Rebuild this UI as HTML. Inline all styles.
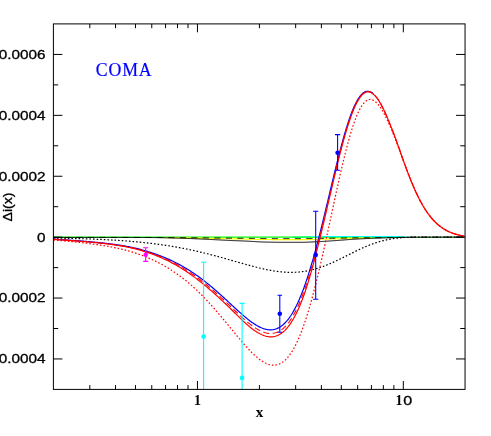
<!DOCTYPE html>
<html><head><meta charset="utf-8"><title>COMA</title>
<style>
html,body{margin:0;padding:0;background:#fff;}
body{width:491px;height:436px;overflow:hidden;font-family:"Liberation Sans",sans-serif;}
svg{display:block;will-change:transform;}
.tl{font-family:"Liberation Sans",sans-serif;font-size:12.4px;fill:#000;stroke:#000;stroke-width:0.3px;}
</style></head><body>
<svg width="491" height="436" viewBox="0 0 491 436">
<rect width="491" height="436" fill="#fff"/>
<defs><clipPath id="c"><rect x="53.4" y="23.9" width="411.65000000000003" height="365.5"/></clipPath></defs>

<g clip-path="url(#c)" fill="none" stroke-linejoin="round">
<path d="M292.4,237.15L293.4,237.15L294.4,237.14L295.4,237.14L296.4,237.13L297.4,237.11L298.4,237.10L299.4,237.09L300.4,237.07L301.4,237.05L302.4,237.03L303.4,237.01L304.4,236.99L305.4,236.97L306.4,236.95L307.4,236.92L308.4,236.90L309.4,236.88L310.4,236.86L311.4,236.83L312.4,236.81L313.4,236.79L314.4,236.77L315.4,236.75L316.4,236.73L317.4,236.72L318.4,236.70L319.4,236.69L320.4,236.68L321.4,236.67L322.4,236.66L323.4,236.65L324.4,236.65L325.4,236.65L326.4,236.65L327.4,236.65L328.4,236.65L329.4,236.65L330.4,236.65L331.4,236.65L332.4,236.65L333.4,236.65L334.4,236.65L335.4,236.65L336.4,236.65L337.4,236.65L338.4,236.65L339.4,236.65L340.4,236.65L341.4,236.65L342.4,236.65L343.4,236.65L344.4,236.65L345.4,236.65L346.4,236.65L347.4,236.65L348.4,236.65L349.4,236.65L350.4,236.65L351.4,236.65L352.4,236.65L353.4,236.65L354.4,236.65L355.4,236.65L356.4,236.65L357.4,236.65L358.4,236.65L359.4,236.65L360.4,236.65L361.4,236.65L362.4,236.65L363.4,236.65L364.4,236.65L365.4,236.65L366.4,236.65L367.4,236.65L368.4,236.65L369.4,236.65L370.4,236.65L371.4,236.65L372.4,236.65L373.4,236.65L374.4,236.65L375.4,236.65L376.4,236.65L377.4,236.65L378.4,236.65L379.4,236.65L380.4,236.65L381.4,236.65L382.4,236.65L383.4,236.65L384.4,236.65L385.4,236.65L386.4,236.65L387.4,236.65L388.4,236.65L389.4,236.65L390.4,236.65L391.4,236.65L392.4,236.65L393.4,236.65L394.4,236.65L395.4,236.65L396.4,236.65L397.4,236.65L398.4,236.65L399.4,236.67L400.4,236.70L401.4,236.75L402.4,236.81L403.4,236.88L404.4,236.95L405.4,237.03L406.4,237.11L407.4,237.19L408.4,237.26L409.4,237.33L410.4,237.39L411.4,237.44L412.4,237.48L413.4,237.50L414.4,237.50" stroke="#00ffff" stroke-width="1.1"/>
<path d="M53.4,237.15L54.4,237.15L55.4,237.15L56.4,237.15L57.4,237.15L58.4,237.15L59.4,237.15L60.4,237.15L61.4,237.15L62.4,237.15L63.4,237.15L64.4,237.15L65.4,237.15L66.4,237.15L67.4,237.15L68.4,237.15L69.4,237.15L70.4,237.15L71.4,237.15L72.4,237.15L73.4,237.15L74.4,237.15L75.4,237.15L76.4,237.15L77.4,237.15L78.4,237.15L79.4,237.15L80.4,237.15L81.4,237.15L82.4,237.15L83.4,237.15L84.4,237.15L85.4,237.15L86.4,237.15L87.4,237.15L88.4,237.15L89.4,237.15L90.4,237.15L91.4,237.15L92.4,237.15L93.4,237.15L94.4,237.15L95.4,237.15L96.4,237.15L97.4,237.15L98.4,237.15L99.4,237.15L100.4,237.15L101.4,237.15L102.4,237.15L103.4,237.15L104.4,237.15L105.4,237.15L106.4,237.15L107.4,237.15L108.4,237.15L109.4,237.15L110.4,237.15L111.4,237.15L112.4,237.15L113.4,237.15L114.4,237.15L115.4,237.15L116.4,237.15L117.4,237.15L118.4,237.15L119.4,237.15L120.4,237.15L121.4,237.15L122.4,237.15L123.4,237.15L124.4,237.15L125.4,237.15L126.4,237.15L127.4,237.15L128.4,237.15L129.4,237.15L130.4,237.15L131.4,237.15L132.4,237.15L133.4,237.15L134.4,237.15L135.4,237.15L136.4,237.15L137.4,237.15L138.4,237.15L139.4,237.15L140.4,237.15L141.4,237.15L142.4,237.15L143.4,237.15L144.4,237.15L145.4,237.15L146.4,237.15L147.4,237.15L148.4,237.15L149.4,237.15L150.4,237.15L151.4,237.15L152.4,237.15L153.4,237.15L154.4,237.15L155.4,237.15L156.4,237.15L157.4,237.15L158.4,237.15L159.4,237.15L160.4,237.15L161.4,237.15L162.4,237.15L163.4,237.15L164.4,237.15L165.4,237.15L166.4,237.15L167.4,237.15L168.4,237.15L169.4,237.15L170.4,237.15L171.4,237.15L172.4,237.15L173.4,237.15L174.4,237.15L175.4,237.15L176.4,237.15L177.4,237.15L178.4,237.15L179.4,237.15L180.4,237.15L181.4,237.15L182.4,237.15L183.4,237.15L184.4,237.15L185.4,237.15L186.4,237.15L187.4,237.15L188.4,237.15L189.4,237.15L190.4,237.15L191.4,237.15L192.4,237.15L193.4,237.15L194.4,237.15L195.4,237.15L196.4,237.15L197.4,237.15L198.4,237.15L199.4,237.15L200.4,237.15L201.4,237.15L202.4,237.15L203.4,237.15L204.4,237.15L205.4,237.15L206.4,237.15L207.4,237.15L208.4,237.15L209.4,237.15L210.4,237.15L211.4,237.15L212.4,237.15L213.4,237.15L214.4,237.15L215.4,237.15L216.4,237.15L217.4,237.15L218.4,237.15L219.4,237.15L220.4,237.15L221.4,237.15L222.4,237.15L223.4,237.15L224.4,237.15L225.4,237.15L226.4,237.15L227.4,237.15L228.4,237.15L229.4,237.15L230.4,237.15L231.4,237.15L232.4,237.15L233.4,237.15L234.4,237.15L235.4,237.15L236.4,237.15L237.4,237.15L238.4,237.15L239.4,237.15L240.4,237.15L241.4,237.15L242.4,237.15L243.4,237.15L244.4,237.15L245.4,237.15L246.4,237.15L247.4,237.15L248.4,237.15L249.4,237.15L250.4,237.15L251.4,237.15L252.4,237.15L253.4,237.15L254.4,237.15L255.4,237.15L256.4,237.15L257.4,237.15L258.4,237.15L259.4,237.15L260.4,237.15L261.4,237.15L262.4,237.15L263.4,237.15L264.4,237.15L265.4,237.15L266.4,237.15L267.4,237.15L268.4,237.15L269.4,237.15L270.4,237.15L271.4,237.15L272.4,237.15L273.4,237.15L274.4,237.15L275.4,237.15L276.4,237.15L277.4,237.15L278.4,237.15L279.4,237.15L280.4,237.15L281.4,237.15L282.4,237.15L283.4,237.15L284.4,237.15L285.4,237.15L286.4,237.15L287.4,237.15L288.4,237.15L289.4,237.15L290.4,237.15L291.4,237.15L292.4,237.15L293.4,237.15L294.4,237.15L295.4,237.15L296.4,237.15L297.4,237.15L298.4,237.15L299.4,237.15L300.4,237.15L301.4,237.15L302.4,237.15L303.4,237.15L304.4,237.15L305.4,237.15L306.4,237.15L307.4,237.15L308.4,237.15L309.4,237.15L310.4,237.15L311.4,237.15" stroke="#00ff00" stroke-width="1.15"/>
<path d="M311.4,237.45L312.4,237.45L313.4,237.45L314.4,237.45L315.4,237.45L316.4,237.45L317.4,237.45L318.4,237.45L319.4,237.45L320.4,237.45L321.4,237.45L322.4,237.45L323.4,237.45L324.4,237.45L325.4,237.45L326.4,237.45L327.4,237.45L328.4,237.45L329.4,237.45L330.4,237.45L331.4,237.45L332.4,237.45L333.4,237.45L334.4,237.45L335.4,237.45L336.4,237.45L337.4,237.45L338.4,237.45L339.4,237.45L340.4,237.45L341.4,237.45L342.4,237.45L343.4,237.45L344.4,237.45L345.4,237.45L346.4,237.45L347.4,237.45L348.4,237.45L349.4,237.45L350.4,237.45L351.4,237.45L352.4,237.45L353.4,237.45L354.4,237.45L355.4,237.45L356.4,237.45L357.4,237.45L358.4,237.45L359.4,237.45L360.4,237.45L361.4,237.45L362.4,237.45L363.4,237.45L364.4,237.45L365.4,237.45L366.4,237.45L367.4,237.45L368.4,237.45L369.4,237.45L370.4,237.45L371.4,237.45L372.4,237.45L373.4,237.45L374.4,237.45L375.4,237.45L376.4,237.45L377.4,237.45L378.4,237.45L379.4,237.45L380.4,237.45L381.4,237.45L382.4,237.45L383.4,237.45L384.4,237.45L385.4,237.45L386.4,237.45L387.4,237.45L388.4,237.45L389.4,237.45L390.4,237.45L391.4,237.45L392.4,237.45L393.4,237.45L394.4,237.45L395.4,237.45L396.4,237.45L397.4,237.45L398.4,237.45L399.4,237.45L400.4,237.45L401.4,237.45L402.4,237.45L403.4,237.45L404.4,237.45L405.4,237.45L406.4,237.45L407.4,237.45L408.4,237.45L409.4,237.45L410.4,237.45L411.4,237.45L412.4,237.45L413.4,237.45L414.4,237.45L415.4,237.45L416.4,237.45L417.4,237.45L418.4,237.45L419.4,237.45L420.4,237.45L421.4,237.45L422.4,237.45L423.4,237.45L424.4,237.45L425.4,237.45L426.4,237.45L427.4,237.45L428.4,237.45L429.4,237.45L430.4,237.45L431.4,237.45L432.4,237.45L433.4,237.45L434.4,237.45L435.4,237.45L436.4,237.45L437.4,237.45L438.4,237.45L439.4,237.45L440.4,237.45L441.4,237.45L442.4,237.45L443.4,237.45L444.4,237.45L445.4,237.45L446.4,237.45L447.4,237.45L448.4,237.45L449.4,237.45L450.4,237.45L451.4,237.45L452.4,237.45L453.4,237.45L454.4,237.45L455.4,237.45L456.4,237.45L457.4,237.45L458.4,237.45L459.4,237.45L460.4,237.45L461.4,237.45L462.4,237.45L463.4,237.45L464.4,237.45" stroke="#00ff00" stroke-width="1.0"/>
<path d="M165.4,237.60L166.4,237.61L167.4,237.62L168.4,237.64L169.4,237.65L170.4,237.66L171.4,237.67L172.4,237.68L173.4,237.70L174.4,237.71L175.4,237.72L176.4,237.74L177.4,237.75L178.4,237.76L179.4,237.78L180.4,237.79L181.4,237.81L182.4,237.82L183.4,237.83L184.4,237.85L185.4,237.86L186.4,237.88L187.4,237.89L188.4,237.91L189.4,237.92L190.4,237.94L191.4,237.96L192.4,237.98L193.4,238.00L194.4,238.02L195.4,238.04L196.4,238.06L197.4,238.08L198.4,238.10L199.4,238.12L200.4,238.14L201.4,238.16L202.4,238.19L203.4,238.21L204.4,238.23L205.4,238.25L206.4,238.27L207.4,238.29L208.4,238.32L209.4,238.34L210.4,238.36L211.4,238.38L212.4,238.40L213.4,238.42L214.4,238.45L215.4,238.47L216.4,238.49L217.4,238.52L218.4,238.54L219.4,238.56L220.4,238.59L221.4,238.61L222.4,238.63L223.4,238.66L224.4,238.68L225.4,238.70L226.4,238.72L227.4,238.75L228.4,238.77L229.4,238.79L230.4,238.81L231.4,238.83L232.4,238.85L233.4,238.86L234.4,238.88L235.4,238.90L236.4,238.92L237.4,238.93L238.4,238.95L239.4,238.97L240.4,238.98L241.4,239.00L242.4,239.02L243.4,239.04L244.4,239.06L245.4,239.08L246.4,239.10L247.4,239.12L248.4,239.15L249.4,239.17L250.4,239.20L251.4,239.22L252.4,239.25L253.4,239.28L254.4,239.30L255.4,239.33L256.4,239.36L257.4,239.38L258.4,239.40L259.4,239.43L260.4,239.45L261.4,239.47L262.4,239.49L263.4,239.50L264.4,239.51L265.4,239.52L266.4,239.53L267.4,239.54L268.4,239.55L269.4,239.56L270.4,239.57L271.4,239.58L272.4,239.59L273.4,239.60L274.4,239.60L275.4,239.61L276.4,239.62L277.4,239.62L278.4,239.63L279.4,239.63L280.4,239.63L281.4,239.63L282.4,239.63L283.4,239.63L284.4,239.63L285.4,239.63L286.4,239.63L287.4,239.63L288.4,239.63L289.4,239.63L290.4,239.63L291.4,239.63L292.4,239.63L293.4,239.63L294.4,239.63L295.4,239.63L296.4,239.63L297.4,239.63L298.4,239.63L299.4,239.63L300.4,239.63L301.4,239.63L302.4,239.63L303.4,239.62L304.4,239.61L305.4,239.60L306.4,239.58L307.4,239.57L308.4,239.55L309.4,239.53L310.4,239.51L311.4,239.49L312.4,239.47L313.4,239.45L314.4,239.43L315.4,239.40L316.4,239.38L317.4,239.36L318.4,239.33L319.4,239.31L320.4,239.29L321.4,239.26L322.4,239.24L323.4,239.22L324.4,239.19L325.4,239.17L326.4,239.14L327.4,239.11L328.4,239.08L329.4,239.05L330.4,239.02L331.4,238.99L332.4,238.96L333.4,238.92L334.4,238.89L335.4,238.86L336.4,238.83L337.4,238.79L338.4,238.76L339.4,238.73L340.4,238.70L341.4,238.66L342.4,238.63L343.4,238.60L344.4,238.56L345.4,238.53L346.4,238.49L347.4,238.45L348.4,238.42L349.4,238.38L350.4,238.35L351.4,238.32L352.4,238.29L353.4,238.26L354.4,238.23L355.4,238.20L356.4,238.18L357.4,238.16L358.4,238.13L359.4,238.11L360.4,238.08L361.4,238.06L362.4,238.04L363.4,238.02L364.4,237.99L365.4,237.97L366.4,237.95L367.4,237.93L368.4,237.91L369.4,237.89L370.4,237.87L371.4,237.86" stroke="#ffff00" stroke-width="1.1"/>
<path d="M53.4,237.45L54.4,237.45L55.4,237.45L56.4,237.45L57.4,237.45L58.4,237.45L59.4,237.45L60.4,237.45L61.4,237.45L62.4,237.45L63.4,237.45L64.4,237.45L65.4,237.45L66.4,237.45L67.4,237.45L68.4,237.45L69.4,237.45L70.4,237.45L71.4,237.45L72.4,237.45L73.4,237.45L74.4,237.45L75.4,237.45L76.4,237.45L77.4,237.45L78.4,237.45L79.4,237.45L80.4,237.45L81.4,237.45L82.4,237.45L83.4,237.45L84.4,237.45L85.4,237.45L86.4,237.45L87.4,237.45L88.4,237.45L89.4,237.45L90.4,237.45L91.4,237.45L92.4,237.45L93.4,237.45L94.4,237.45L95.4,237.45L96.4,237.45L97.4,237.45L98.4,237.45L99.4,237.45L100.4,237.45L101.4,237.45L102.4,237.45L103.4,237.45L104.4,237.45L105.4,237.45L106.4,237.45L107.4,237.45L108.4,237.45L109.4,237.45L110.4,237.45L111.4,237.45L112.4,237.45L113.4,237.45L114.4,237.45L115.4,237.45L116.4,237.45L117.4,237.45L118.4,237.45L119.4,237.45L120.4,237.45L121.4,237.45L122.4,237.45L123.4,237.45L124.4,237.45L125.4,237.45L126.4,237.45L127.4,237.45L128.4,237.45L129.4,237.45L130.4,237.45L131.4,237.45L132.4,237.45L133.4,237.46L134.4,237.46L135.4,237.46L136.4,237.46L137.4,237.46L138.4,237.46L139.4,237.46L140.4,237.46L141.4,237.46L142.4,237.46L143.4,237.47L144.4,237.47L145.4,237.47L146.4,237.47L147.4,237.47L148.4,237.47L149.4,237.47L150.4,237.47L151.4,237.48L152.4,237.48L153.4,237.48L154.4,237.48L155.4,237.49L156.4,237.49L157.4,237.49L158.4,237.50L159.4,237.50L160.4,237.51L161.4,237.51L162.4,237.52L163.4,237.52L164.4,237.53L165.4,237.53L166.4,237.54L167.4,237.54L168.4,237.55L169.4,237.56L170.4,237.56L171.4,237.57L172.4,237.58L173.4,237.58L174.4,237.59L175.4,237.60L176.4,237.60L177.4,237.61L178.4,237.62L179.4,237.62L180.4,237.63L181.4,237.64L182.4,237.65L183.4,237.65L184.4,237.66L185.4,237.67L186.4,237.68L187.4,237.68L188.4,237.69L189.4,237.70L190.4,237.71L191.4,237.72L192.4,237.73L193.4,237.74L194.4,237.75L195.4,237.76L196.4,237.77L197.4,237.78L198.4,237.80L199.4,237.81L200.4,237.82L201.4,237.83L202.4,237.84L203.4,237.85L204.4,237.87L205.4,237.88L206.4,237.89L207.4,237.90L208.4,237.91L209.4,237.92L210.4,237.93L211.4,237.95L212.4,237.96L213.4,237.97L214.4,237.98L215.4,237.99L216.4,238.01L217.4,238.02L218.4,238.03L219.4,238.04L220.4,238.06L221.4,238.07L222.4,238.08L223.4,238.09L224.4,238.11L225.4,238.12L226.4,238.13L227.4,238.14L228.4,238.15L229.4,238.16L230.4,238.17L231.4,238.18L232.4,238.19L233.4,238.20L234.4,238.21L235.4,238.22L236.4,238.23L237.4,238.24L238.4,238.25L239.4,238.26L240.4,238.27L241.4,238.28L242.4,238.29L243.4,238.30L244.4,238.31L245.4,238.32L246.4,238.33L247.4,238.34L248.4,238.35L249.4,238.37L250.4,238.38L251.4,238.40L252.4,238.41L253.4,238.42L254.4,238.44L255.4,238.45L256.4,238.47L257.4,238.48L258.4,238.49L259.4,238.50L260.4,238.52L261.4,238.53L262.4,238.54L263.4,238.54L264.4,238.55L265.4,238.56L266.4,238.56L267.4,238.57L268.4,238.57L269.4,238.58L270.4,238.58L271.4,238.59L272.4,238.59L273.4,238.60L274.4,238.60L275.4,238.60L276.4,238.61L277.4,238.61L278.4,238.61L279.4,238.61L280.4,238.61L281.4,238.61L282.4,238.61L283.4,238.61L284.4,238.61L285.4,238.61L286.4,238.61L287.4,238.61L288.4,238.61L289.4,238.61L290.4,238.61L291.4,238.61L292.4,238.61L293.4,238.61L294.4,238.61L295.4,238.61L296.4,238.61L297.4,238.61L298.4,238.61L299.4,238.61L300.4,238.61L301.4,238.61L302.4,238.61L303.4,238.61L304.4,238.60L305.4,238.60L306.4,238.59L307.4,238.58L308.4,238.57L309.4,238.56L310.4,238.55L311.4,238.54L312.4,238.53L313.4,238.52L314.4,238.50L315.4,238.49L316.4,238.48L317.4,238.47L318.4,238.45L319.4,238.44L320.4,238.43L321.4,238.42L322.4,238.41L323.4,238.39L324.4,238.38L325.4,238.37L326.4,238.35L327.4,238.34L328.4,238.32L329.4,238.30L330.4,238.29L331.4,238.27L332.4,238.25L333.4,238.24L334.4,238.22L335.4,238.20L336.4,238.18L337.4,238.17L338.4,238.15L339.4,238.13L340.4,238.12L341.4,238.10L342.4,238.08L343.4,238.06L344.4,238.04L345.4,238.02L346.4,238.00L347.4,237.99L348.4,237.97L349.4,237.95L350.4,237.93L351.4,237.91L352.4,237.90L353.4,237.88L354.4,237.87L355.4,237.85L356.4,237.84L357.4,237.83L358.4,237.81L359.4,237.80L360.4,237.79L361.4,237.78L362.4,237.76L363.4,237.75L364.4,237.74L365.4,237.73L366.4,237.72L367.4,237.71L368.4,237.70L369.4,237.69L370.4,237.68L371.4,237.67L372.4,237.66L373.4,237.65L374.4,237.64L375.4,237.63L376.4,237.62L377.4,237.61L378.4,237.61L379.4,237.60L380.4,237.59L381.4,237.58L382.4,237.57L383.4,237.57L384.4,237.56L385.4,237.54L386.4,237.53L387.4,237.52L388.4,237.51L389.4,237.50L390.4,237.48L391.4,237.47L392.4,237.46L393.4,237.44L394.4,237.43L395.4,237.42L396.4,237.40L397.4,237.39L398.4,237.37L399.4,237.36L400.4,237.35L401.4,237.33L402.4,237.32L403.4,237.31L404.4,237.30L405.4,237.28L406.4,237.27L407.4,237.26L408.4,237.25L409.4,237.23L410.4,237.22L411.4,237.21L412.4,237.20L413.4,237.19L414.4,237.18L415.4,237.18L416.4,237.17L417.4,237.16L418.4,237.16L419.4,237.15L420.4,237.15L421.4,237.15L422.4,237.14L423.4,237.14L424.4,237.14L425.4,237.13L426.4,237.13L427.4,237.13L428.4,237.12L429.4,237.12L430.4,237.12L431.4,237.11L432.4,237.11L433.4,237.11L434.4,237.10L435.4,237.10L436.4,237.10L437.4,237.09L438.4,237.09L439.4,237.09L440.4,237.09L441.4,237.08L442.4,237.08L443.4,237.08L444.4,237.08L445.4,237.07L446.4,237.07L447.4,237.07L448.4,237.07L449.4,237.07L450.4,237.06L451.4,237.06L452.4,237.06L453.4,237.06L454.4,237.06L455.4,237.06L456.4,237.06L457.4,237.05L458.4,237.05L459.4,237.05L460.4,237.05L461.4,237.05L462.4,237.05L463.4,237.05L464.4,237.05" stroke="#000" stroke-width="1" stroke-dasharray="6,5.5"/>
<path d="M53.4,237.45L54.4,237.45L55.4,237.45L56.4,237.45L57.4,237.45L58.4,237.45L59.4,237.45L60.4,237.45L61.4,237.45L62.4,237.45L63.4,237.45L64.4,237.45L65.4,237.45L66.4,237.45L67.4,237.45L68.4,237.45L69.4,237.45L70.4,237.45L71.4,237.45L72.4,237.45L73.4,237.45L74.4,237.45L75.4,237.45L76.4,237.45L77.4,237.45L78.4,237.45L79.4,237.45L80.4,237.45L81.4,237.45L82.4,237.45L83.4,237.45L84.4,237.45L85.4,237.45L86.4,237.45L87.4,237.45L88.4,237.45L89.4,237.45L90.4,237.45L91.4,237.45L92.4,237.45L93.4,237.45L94.4,237.45L95.4,237.45L96.4,237.45L97.4,237.45L98.4,237.45L99.4,237.45L100.4,237.45L101.4,237.45L102.4,237.45L103.4,237.45L104.4,237.45L105.4,237.45L106.4,237.45L107.4,237.45L108.4,237.45L109.4,237.45L110.4,237.45L111.4,237.45L112.4,237.45L113.4,237.45L114.4,237.45L115.4,237.45L116.4,237.45L117.4,237.45L118.4,237.45L119.4,237.45L120.4,237.45L121.4,237.45L122.4,237.45L123.4,237.45L124.4,237.45L125.4,237.45L126.4,237.46L127.4,237.46L128.4,237.46L129.4,237.46L130.4,237.46L131.4,237.47L132.4,237.47L133.4,237.47L134.4,237.48L135.4,237.48L136.4,237.48L137.4,237.49L138.4,237.49L139.4,237.50L140.4,237.50L141.4,237.51L142.4,237.51L143.4,237.51L144.4,237.52L145.4,237.52L146.4,237.53L147.4,237.54L148.4,237.54L149.4,237.55L150.4,237.55L151.4,237.56L152.4,237.57L153.4,237.58L154.4,237.59L155.4,237.60L156.4,237.62L157.4,237.63L158.4,237.65L159.4,237.66L160.4,237.68L161.4,237.70L162.4,237.72L163.4,237.74L164.4,237.77L165.4,237.79L166.4,237.81L167.4,237.84L168.4,237.86L169.4,237.89L170.4,237.92L171.4,237.94L172.4,237.97L173.4,238.00L174.4,238.03L175.4,238.06L176.4,238.09L177.4,238.12L178.4,238.15L179.4,238.18L180.4,238.21L181.4,238.24L182.4,238.27L183.4,238.30L184.4,238.33L185.4,238.36L186.4,238.39L187.4,238.43L188.4,238.46L189.4,238.50L190.4,238.54L191.4,238.58L192.4,238.62L193.4,238.66L194.4,238.71L195.4,238.75L196.4,238.80L197.4,238.84L198.4,238.89L199.4,238.94L200.4,238.99L201.4,239.03L202.4,239.08L203.4,239.13L204.4,239.18L205.4,239.23L206.4,239.28L207.4,239.33L208.4,239.37L209.4,239.42L210.4,239.47L211.4,239.52L212.4,239.57L213.4,239.62L214.4,239.67L215.4,239.72L216.4,239.77L217.4,239.82L218.4,239.87L219.4,239.93L220.4,239.98L221.4,240.03L222.4,240.08L223.4,240.13L224.4,240.18L225.4,240.23L226.4,240.28L227.4,240.33L228.4,240.38L229.4,240.42L230.4,240.47L231.4,240.51L232.4,240.55L233.4,240.59L234.4,240.63L235.4,240.67L236.4,240.71L237.4,240.75L238.4,240.78L239.4,240.82L240.4,240.86L241.4,240.90L242.4,240.94L243.4,240.98L244.4,241.02L245.4,241.07L246.4,241.12L247.4,241.17L248.4,241.22L249.4,241.28L250.4,241.33L251.4,241.39L252.4,241.45L253.4,241.51L254.4,241.57L255.4,241.63L256.4,241.68L257.4,241.74L258.4,241.79L259.4,241.84L260.4,241.89L261.4,241.93L262.4,241.97L263.4,242.01L264.4,242.04L265.4,242.06L266.4,242.08L267.4,242.10L268.4,242.12L269.4,242.15L270.4,242.17L271.4,242.19L272.4,242.20L273.4,242.22L274.4,242.24L275.4,242.25L276.4,242.26L277.4,242.28L278.4,242.28L279.4,242.29L280.4,242.30L281.4,242.30L282.4,242.30L283.4,242.30L284.4,242.30L285.4,242.30L286.4,242.30L287.4,242.30L288.4,242.30L289.4,242.30L290.4,242.30L291.4,242.30L292.4,242.30L293.4,242.30L294.4,242.30L295.4,242.30L296.4,242.30L297.4,242.30L298.4,242.30L299.4,242.30L300.4,242.30L301.4,242.29L302.4,242.28L303.4,242.27L304.4,242.25L305.4,242.22L306.4,242.19L307.4,242.16L308.4,242.12L309.4,242.08L310.4,242.04L311.4,241.99L312.4,241.94L313.4,241.90L314.4,241.84L315.4,241.79L316.4,241.74L317.4,241.69L318.4,241.64L319.4,241.58L320.4,241.53L321.4,241.48L322.4,241.43L323.4,241.38L324.4,241.32L325.4,241.26L326.4,241.20L327.4,241.14L328.4,241.07L329.4,241.01L330.4,240.94L331.4,240.87L332.4,240.80L333.4,240.73L334.4,240.65L335.4,240.58L336.4,240.51L337.4,240.44L338.4,240.36L339.4,240.29L340.4,240.22L341.4,240.15L342.4,240.07L343.4,240.00L344.4,239.92L345.4,239.84L346.4,239.76L347.4,239.68L348.4,239.60L349.4,239.53L350.4,239.45L351.4,239.38L352.4,239.31L353.4,239.25L354.4,239.18L355.4,239.13L356.4,239.07L357.4,239.02L358.4,238.96L359.4,238.91L360.4,238.86L361.4,238.81L362.4,238.76L363.4,238.71L364.4,238.66L365.4,238.61L366.4,238.57L367.4,238.52L368.4,238.48L369.4,238.43L370.4,238.39L371.4,238.35L372.4,238.31L373.4,238.27L374.4,238.24L375.4,238.20L376.4,238.16L377.4,238.13L378.4,238.10L379.4,238.07L380.4,238.04L381.4,238.01L382.4,237.98L383.4,237.95L384.4,237.92L385.4,237.88L386.4,237.85L387.4,237.82L388.4,237.79L389.4,237.76L390.4,237.73L391.4,237.70L392.4,237.67L393.4,237.64L394.4,237.61L395.4,237.58L396.4,237.55L397.4,237.53L398.4,237.50L399.4,237.48L400.4,237.46L401.4,237.44L402.4,237.42L403.4,237.39L404.4,237.37L405.4,237.35L406.4,237.33L407.4,237.31L408.4,237.29L409.4,237.27L410.4,237.26L411.4,237.24L412.4,237.22L413.4,237.21L414.4,237.20L415.4,237.18L416.4,237.17L417.4,237.17L418.4,237.16L419.4,237.15L420.4,237.15L421.4,237.15L422.4,237.14L423.4,237.14L424.4,237.14L425.4,237.13L426.4,237.13L427.4,237.13L428.4,237.12L429.4,237.12L430.4,237.12L431.4,237.11L432.4,237.11L433.4,237.11L434.4,237.10L435.4,237.10L436.4,237.10L437.4,237.09L438.4,237.09L439.4,237.09L440.4,237.09L441.4,237.08L442.4,237.08L443.4,237.08L444.4,237.08L445.4,237.07L446.4,237.07L447.4,237.07L448.4,237.07L449.4,237.07L450.4,237.06L451.4,237.06L452.4,237.06L453.4,237.06L454.4,237.06L455.4,237.06L456.4,237.06L457.4,237.05L458.4,237.05L459.4,237.05L460.4,237.05L461.4,237.05L462.4,237.05L463.4,237.05L464.4,237.05" stroke="#000" stroke-width="1.0"/>
<path d="M53.4,238.07L54.4,238.09L55.4,238.10L56.4,238.12L57.4,238.14L58.4,238.16L59.4,238.17L60.4,238.19L61.4,238.21L62.4,238.23L63.4,238.25L64.4,238.27L65.4,238.29L66.4,238.31L67.4,238.34L68.4,238.36L69.4,238.38L70.4,238.40L71.4,238.43L72.4,238.45L73.4,238.48L74.4,238.50L75.4,238.53L76.4,238.56L77.4,238.58L78.4,238.61L79.4,238.64L80.4,238.67L81.4,238.70L82.4,238.73L83.4,238.76L84.4,238.79L85.4,238.83L86.4,238.86L87.4,238.89L88.4,238.93L89.4,238.97L90.4,239.00L91.4,239.04L92.4,239.08L93.4,239.12L94.4,239.16L95.4,239.20L96.4,239.24L97.4,239.28L98.4,239.32L99.4,239.37L100.4,239.41L101.4,239.46L102.4,239.51L103.4,239.56L104.4,239.60L105.4,239.65L106.4,239.71L107.4,239.76L108.4,239.81L109.4,239.87L110.4,239.92L111.4,239.98L112.4,240.04L113.4,240.10L114.4,240.16L115.4,240.22L116.4,240.28L117.4,240.34L118.4,240.41L119.4,240.48L120.4,240.54L121.4,240.61L122.4,240.68L123.4,240.75L124.4,240.83L125.4,240.90L126.4,240.98L127.4,241.06L128.4,241.14L129.4,241.22L130.4,241.30L131.4,241.38L132.4,241.47L133.4,241.56L134.4,241.64L135.4,241.73L136.4,241.83L137.4,241.92L138.4,242.01L139.4,242.11L140.4,242.21L141.4,242.31L142.4,242.41L143.4,242.52L144.4,242.62L145.4,242.73L146.4,242.84L147.4,242.95L148.4,243.07L149.4,243.18L150.4,243.30L151.4,243.42L152.4,243.54L153.4,243.66L154.4,243.79L155.4,243.92L156.4,244.05L157.4,244.18L158.4,244.31L159.4,244.45L160.4,244.59L161.4,244.73L162.4,244.87L163.4,245.02L164.4,245.17L165.4,245.31L166.4,245.47L167.4,245.62L168.4,245.78L169.4,245.94L170.4,246.10L171.4,246.26L172.4,246.43L173.4,246.60L174.4,246.77L175.4,246.94L176.4,247.12L177.4,247.29L178.4,247.48L179.4,247.66L180.4,247.84L181.4,248.03L182.4,248.22L183.4,248.42L184.4,248.61L185.4,248.81L186.4,249.01L187.4,249.21L188.4,249.42L189.4,249.63L190.4,249.84L191.4,250.05L192.4,250.27L193.4,250.48L194.4,250.70L195.4,250.93L196.4,251.15L197.4,251.38L198.4,251.61L199.4,251.84L200.4,252.08L201.4,252.31L202.4,252.55L203.4,252.80L204.4,253.04L205.4,253.29L206.4,253.53L207.4,253.79L208.4,254.04L209.4,254.29L210.4,254.55L211.4,254.81L212.4,255.07L213.4,255.33L214.4,255.60L215.4,255.86L216.4,256.13L217.4,256.40L218.4,256.67L219.4,256.95L220.4,257.22L221.4,257.50L222.4,257.77L223.4,258.05L224.4,258.33L225.4,258.61L226.4,258.89L227.4,259.18L228.4,259.46L229.4,259.74L230.4,260.03L231.4,260.31L232.4,260.60L233.4,260.89L234.4,261.17L235.4,261.46L236.4,261.74L237.4,262.03L238.4,262.32L239.4,262.60L240.4,262.89L241.4,263.17L242.4,263.45L243.4,263.73L244.4,264.02L245.4,264.29L246.4,264.57L247.4,264.85L248.4,265.12L249.4,265.40L250.4,265.67L251.4,265.93L252.4,266.20L253.4,266.46L254.4,266.72L255.4,266.98L256.4,267.23L257.4,267.48L258.4,267.73L259.4,267.97L260.4,268.21L261.4,268.44L262.4,268.67L263.4,268.89L264.4,269.11L265.4,269.33L266.4,269.54L267.4,269.74L268.4,269.94L269.4,270.13L270.4,270.31L271.4,270.49L272.4,270.66L273.4,270.83L274.4,270.99L275.4,271.14L276.4,271.28L277.4,271.41L278.4,271.54L279.4,271.66L280.4,271.77L281.4,271.87L282.4,271.96L283.4,272.05L284.4,272.12L285.4,272.18L286.4,272.24L287.4,272.28L288.4,272.32L289.4,272.34L290.4,272.36L291.4,272.36L292.4,272.35L293.4,272.33L294.4,272.30L295.4,272.26L296.4,272.21L297.4,272.15L298.4,272.07L299.4,271.98L300.4,271.88L301.4,271.77L302.4,271.65L303.4,271.52L304.4,271.37L305.4,271.21L306.4,271.04L307.4,270.86L308.4,270.66L309.4,270.45L310.4,270.23L311.4,270.00L312.4,269.76L313.4,269.50L314.4,269.24L315.4,268.96L316.4,268.67L317.4,268.37L318.4,268.05L319.4,267.73L320.4,267.40L321.4,267.05L322.4,266.69L323.4,266.33L324.4,265.95L325.4,265.57L326.4,265.17L327.4,264.77L328.4,264.35L329.4,263.93L330.4,263.50L331.4,263.06L332.4,262.62L333.4,262.17L334.4,261.71L335.4,261.24L336.4,260.77L337.4,260.30L338.4,259.82L339.4,259.33L340.4,258.84L341.4,258.35L342.4,257.85L343.4,257.36L344.4,256.85L345.4,256.35L346.4,255.85L347.4,255.35L348.4,254.84L349.4,254.34L350.4,253.84L351.4,253.34L352.4,252.84L353.4,252.34L354.4,251.85L355.4,251.36L356.4,250.88L357.4,250.40L358.4,249.92L359.4,249.45L360.4,248.98L361.4,248.52L362.4,248.07L363.4,247.63L364.4,247.19L365.4,246.76L366.4,246.34L367.4,245.92L368.4,245.52L369.4,245.12L370.4,244.73L371.4,244.36L372.4,243.99L373.4,243.63L374.4,243.28L375.4,242.94L376.4,242.62L377.4,242.30L378.4,241.99L379.4,241.70L380.4,241.41L381.4,241.14L382.4,240.88L383.4,240.62L384.4,240.38L385.4,240.15L386.4,239.93L387.4,239.72L388.4,239.52L389.4,239.33L390.4,239.15L391.4,238.97L392.4,238.81L393.4,238.66L394.4,238.52L395.4,238.38L396.4,238.26L397.4,238.14L398.4,238.03L399.4,237.93L400.4,237.83L401.4,237.74L402.4,237.66L403.4,237.59L404.4,237.52L405.4,237.46L406.4,237.40L407.4,237.35L408.4,237.31L409.4,237.27L410.4,237.23L411.4,237.20L412.4,237.17L413.4,237.14L414.4,237.12L415.4,237.10L416.4,237.09L417.4,237.07L418.4,237.06L419.4,237.05L420.4,237.05L421.4,237.04L422.4,237.04L423.4,237.04L424.4,237.04L425.4,237.04L426.4,237.04L427.4,237.04L428.4,237.04L429.4,237.04L430.4,237.05L431.4,237.06L432.4,237.06L433.4,237.07L434.4,237.08L435.4,237.08L436.4,237.09L437.4,237.09L438.4,237.10L439.4,237.11L440.4,237.11L441.4,237.11L442.4,237.12L443.4,237.12L444.4,237.13L445.4,237.13L446.4,237.13L447.4,237.13L448.4,237.14L449.4,237.14L450.4,237.14L451.4,237.14L452.4,237.14L453.4,237.14L454.4,237.15L455.4,237.15L456.4,237.15L457.4,237.15L458.4,237.15L459.4,237.15L460.4,237.15L461.4,237.15L462.4,237.15L463.4,237.15L464.4,237.15" stroke="#000" stroke-width="1.2" stroke-dasharray="1.6,2.0"/>
<path d="M53.4,240.01L54.4,240.09L55.4,240.18L56.4,240.26L57.4,240.34L58.4,240.43L59.4,240.52L60.4,240.60L61.4,240.69L62.4,240.78L63.4,240.87L64.4,240.96L65.4,241.05L66.4,241.14L67.4,241.23L68.4,241.33L69.4,241.42L70.4,241.51L71.4,241.60L72.4,241.70L73.4,241.80L74.4,241.90L75.4,242.00L76.4,242.10L77.4,242.21L78.4,242.31L79.4,242.42L80.4,242.53L81.4,242.64L82.4,242.76L83.4,242.87L84.4,242.99L85.4,243.11L86.4,243.24L87.4,243.36L88.4,243.49L89.4,243.61L90.4,243.74L91.4,243.88L92.4,244.01L93.4,244.14L94.4,244.28L95.4,244.42L96.4,244.55L97.4,244.70L98.4,244.84L99.4,244.99L100.4,245.13L101.4,245.29L102.4,245.44L103.4,245.60L104.4,245.76L105.4,245.93L106.4,246.10L107.4,246.27L108.4,246.45L109.4,246.63L110.4,246.82L111.4,247.01L112.4,247.20L113.4,247.40L114.4,247.60L115.4,247.81L116.4,248.02L117.4,248.23L118.4,248.45L119.4,248.67L120.4,248.90L121.4,249.13L122.4,249.37L123.4,249.61L124.4,249.86L125.4,250.12L126.4,250.38L127.4,250.65L128.4,250.92L129.4,251.21L130.4,251.50L131.4,251.79L132.4,252.10L133.4,252.41L134.4,252.73L135.4,253.06L136.4,253.39L137.4,253.73L138.4,254.08L139.4,254.44L140.4,254.80L141.4,255.17L142.4,255.55L143.4,255.93L144.4,256.32L145.4,256.72L146.4,257.13L147.4,257.54L148.4,257.96L149.4,258.39L150.4,258.83L151.4,259.28L152.4,259.73L153.4,260.20L154.4,260.67L155.4,261.15L156.4,261.64L157.4,262.14L158.4,262.65L159.4,263.17L160.4,263.69L161.4,264.23L162.4,264.78L163.4,265.33L164.4,265.90L165.4,266.47L166.4,267.06L167.4,267.66L168.4,268.26L169.4,268.88L170.4,269.51L171.4,270.15L172.4,270.80L173.4,271.46L174.4,272.13L175.4,272.81L176.4,273.51L177.4,274.21L178.4,274.93L179.4,275.66L180.4,276.40L181.4,277.15L182.4,277.91L183.4,278.69L184.4,279.47L185.4,280.27L186.4,281.08L187.4,281.91L188.4,282.74L189.4,283.59L190.4,284.46L191.4,285.33L192.4,286.22L193.4,287.12L194.4,288.03L195.4,288.96L196.4,289.89L197.4,290.84L198.4,291.80L199.4,292.78L200.4,293.76L201.4,294.76L202.4,295.77L203.4,296.79L204.4,297.82L205.4,298.87L206.4,299.92L207.4,300.99L208.4,302.06L209.4,303.15L210.4,304.25L211.4,305.35L212.4,306.47L213.4,307.59L214.4,308.73L215.4,309.87L216.4,311.02L217.4,312.18L218.4,313.35L219.4,314.52L220.4,315.70L221.4,316.89L222.4,318.09L223.4,319.28L224.4,320.49L225.4,321.70L226.4,322.91L227.4,324.12L228.4,325.34L229.4,326.56L230.4,327.78L231.4,329.01L232.4,330.23L233.4,331.45L234.4,332.67L235.4,333.88L236.4,335.10L237.4,336.30L238.4,337.51L239.4,338.70L240.4,339.89L241.4,341.07L242.4,342.24L243.4,343.39L244.4,344.54L245.4,345.67L246.4,346.79L247.4,347.89L248.4,348.97L249.4,350.03L250.4,351.08L251.4,352.10L252.4,353.09L253.4,354.06L254.4,355.01L255.4,355.92L256.4,356.81L257.4,357.66L258.4,358.47L259.4,359.25L260.4,359.99L261.4,360.69L262.4,361.35L263.4,361.96L264.4,362.53L265.4,363.05L266.4,363.51L267.4,363.93L268.4,364.29L269.4,364.59L270.4,364.83L271.4,365.01L272.4,365.12L273.4,365.17L274.4,365.16L275.4,365.07L276.4,364.91L277.4,364.68L278.4,364.38L279.4,363.99L280.4,363.53L281.4,362.98L282.4,362.35L283.4,361.63L284.4,360.82L285.4,359.92L286.4,358.92L287.4,357.83L288.4,356.64L289.4,355.36L290.4,353.97L291.4,352.48L292.4,350.88L293.4,349.19L294.4,347.38L295.4,345.47L296.4,343.46L297.4,341.33L298.4,339.11L299.4,336.77L300.4,334.33L301.4,331.78L302.4,329.12L303.4,326.36L304.4,323.49L305.4,320.52L306.4,317.44L307.4,314.27L308.4,310.99L309.4,307.61L310.4,304.14L311.4,300.57L312.4,296.91L313.4,293.16L314.4,289.32L315.4,285.40L316.4,281.41L317.4,277.33L318.4,273.19L319.4,268.98L320.4,264.70L321.4,260.36L322.4,255.97L323.4,251.53L324.4,247.05L325.4,242.52L326.4,237.96L327.4,233.37L328.4,228.76L329.4,224.14L330.4,219.50L331.4,214.85L332.4,210.19L333.4,205.53L334.4,200.88L335.4,196.24L336.4,191.63L337.4,187.06L338.4,182.53L339.4,178.04L340.4,173.62L341.4,169.27L342.4,164.99L343.4,160.80L344.4,156.70L345.4,152.70L346.4,148.80L347.4,145.00L348.4,141.30L349.4,137.73L350.4,134.28L351.4,130.96L352.4,127.79L353.4,124.75L354.4,121.87L355.4,119.15L356.4,116.60L357.4,114.21L358.4,112.00L359.4,109.97L360.4,108.12L361.4,106.45L362.4,104.95L363.4,103.63L364.4,102.48L365.4,101.52L366.4,100.74L367.4,100.14L368.4,99.73L369.4,99.50L370.4,99.45L371.4,99.58L372.4,99.89L373.4,100.35L374.4,100.95L375.4,101.69L376.4,102.58L377.4,103.59L378.4,104.74L379.4,106.02L380.4,107.43L381.4,108.96L382.4,110.60L383.4,112.36L384.4,114.23L385.4,116.21L386.4,118.25L387.4,120.36L388.4,122.54L389.4,124.77L390.4,127.07L391.4,129.42L392.4,131.82L393.4,134.28L394.4,136.79L395.4,139.35L396.4,141.96L397.4,144.61L398.4,147.31L399.4,150.04L400.4,152.79L401.4,155.54L402.4,158.28L403.4,161.00L404.4,163.71L405.4,166.39L406.4,169.04L407.4,171.66L408.4,174.24L409.4,176.78L410.4,179.28L411.4,181.72L412.4,184.11L413.4,186.45L414.4,188.73L415.4,190.95L416.4,193.11L417.4,195.20L418.4,197.23L419.4,199.20L420.4,201.10L421.4,202.94L422.4,204.71L423.4,206.42L424.4,208.06L425.4,209.65L426.4,211.17L427.4,212.62L428.4,214.02L429.4,215.36L430.4,216.64L431.4,217.87L432.4,219.04L433.4,220.15L434.4,221.21L435.4,222.22L436.4,223.18L437.4,224.10L438.4,224.96L439.4,225.78L440.4,226.56L441.4,227.30L442.4,227.99L443.4,228.65L444.4,229.27L445.4,229.85L446.4,230.40L447.4,230.92L448.4,231.41L449.4,231.87L450.4,232.31L451.4,232.72L452.4,233.10L453.4,233.46L454.4,233.80L455.4,234.12L456.4,234.42L457.4,234.70L458.4,234.95L459.4,235.19L460.4,235.42L461.4,235.63L462.4,235.82L463.4,236.01L464.4,236.18" stroke="#ff0000" stroke-width="1.2" stroke-dasharray="1.6,2.0"/>
<path d="M53.4,239.09L54.4,239.15L55.4,239.22L56.4,239.28L57.4,239.35L58.4,239.42L59.4,239.48L60.4,239.55L61.4,239.62L62.4,239.68L63.4,239.75L64.4,239.82L65.4,239.89L66.4,239.95L67.4,240.02L68.4,240.09L69.4,240.16L70.4,240.22L71.4,240.29L72.4,240.36L73.4,240.43L74.4,240.50L75.4,240.57L76.4,240.65L77.4,240.72L78.4,240.80L79.4,240.87L80.4,240.95L81.4,241.03L82.4,241.11L83.4,241.19L84.4,241.28L85.4,241.36L86.4,241.45L87.4,241.53L88.4,241.62L89.4,241.71L90.4,241.80L91.4,241.89L92.4,241.98L93.4,242.07L94.4,242.17L95.4,242.26L96.4,242.35L97.4,242.45L98.4,242.54L99.4,242.64L100.4,242.74L101.4,242.84L102.4,242.95L103.4,243.05L104.4,243.16L105.4,243.28L106.4,243.39L107.4,243.51L108.4,243.63L109.4,243.75L110.4,243.88L111.4,244.01L112.4,244.14L113.4,244.28L114.4,244.41L115.4,244.55L116.4,244.69L117.4,244.84L118.4,244.99L119.4,245.14L120.4,245.30L121.4,245.45L122.4,245.62L123.4,245.79L124.4,245.96L125.4,246.13L126.4,246.31L127.4,246.50L128.4,246.69L129.4,246.89L130.4,247.09L131.4,247.30L132.4,247.51L133.4,247.73L134.4,247.96L135.4,248.20L136.4,248.43L137.4,248.68L138.4,248.93L139.4,249.18L140.4,249.44L141.4,249.70L142.4,249.97L143.4,250.25L144.4,250.53L145.4,250.81L146.4,251.10L147.4,251.40L148.4,251.70L149.4,252.01L150.4,252.33L151.4,252.65L152.4,252.98L153.4,253.31L154.4,253.65L155.4,254.00L156.4,254.36L157.4,254.72L158.4,255.09L159.4,255.46L160.4,255.84L161.4,256.23L162.4,256.63L163.4,257.03L164.4,257.45L165.4,257.87L166.4,258.29L167.4,258.73L168.4,259.17L169.4,259.62L170.4,260.08L171.4,260.55L172.4,261.02L173.4,261.51L174.4,262.00L175.4,262.50L176.4,263.01L177.4,263.53L178.4,264.06L179.4,264.60L180.4,265.14L181.4,265.70L182.4,266.26L183.4,266.83L184.4,267.42L185.4,268.01L186.4,268.61L187.4,269.22L188.4,269.84L189.4,270.47L190.4,271.11L191.4,271.76L192.4,272.42L193.4,273.09L194.4,273.77L195.4,274.45L196.4,275.15L197.4,275.86L198.4,276.57L199.4,277.30L200.4,278.04L201.4,278.78L202.4,279.54L203.4,280.30L204.4,281.08L205.4,281.86L206.4,282.65L207.4,283.45L208.4,284.26L209.4,285.08L210.4,285.90L211.4,286.74L212.4,287.58L213.4,288.43L214.4,289.29L215.4,290.15L216.4,291.03L217.4,291.91L218.4,292.79L219.4,293.68L220.4,294.58L221.4,295.48L222.4,296.39L223.4,297.30L224.4,298.22L225.4,299.14L226.4,300.06L227.4,300.98L228.4,301.91L229.4,302.84L230.4,303.76L231.4,304.69L232.4,305.62L233.4,306.55L234.4,307.47L235.4,308.39L236.4,309.31L237.4,310.22L238.4,311.13L239.4,312.03L240.4,312.92L241.4,313.80L242.4,314.68L243.4,315.54L244.4,316.40L245.4,317.23L246.4,318.06L247.4,318.87L248.4,319.66L249.4,320.44L250.4,321.19L251.4,321.93L252.4,322.64L253.4,323.33L254.4,323.99L255.4,324.63L256.4,325.24L257.4,325.82L258.4,326.37L259.4,326.88L260.4,327.36L261.4,327.80L262.4,328.21L263.4,328.57L264.4,328.90L265.4,329.17L266.4,329.41L267.4,329.59L268.4,329.72L269.4,329.81L270.4,329.84L271.4,329.81L272.4,329.73L273.4,329.58L274.4,329.38L275.4,329.11L276.4,328.78L277.4,328.38L278.4,327.91L279.4,327.37L280.4,326.76L281.4,326.07L282.4,325.30L283.4,324.46L284.4,323.54L285.4,322.53L286.4,321.45L287.4,320.27L288.4,319.02L289.4,317.67L290.4,316.24L291.4,314.71L292.4,313.10L293.4,311.39L294.4,309.59L295.4,307.70L296.4,305.72L297.4,303.64L298.4,301.46L299.4,299.19L300.4,296.83L301.4,294.37L302.4,291.82L303.4,289.17L304.4,286.43L305.4,283.60L306.4,280.68L307.4,277.66L308.4,274.56L309.4,271.38L310.4,268.11L311.4,264.75L312.4,261.32L313.4,257.81L314.4,254.23L315.4,250.57L316.4,246.85L317.4,243.06L318.4,239.21L319.4,235.31L320.4,231.35L321.4,227.34L322.4,223.29L323.4,219.20L324.4,215.08L325.4,210.93L326.4,206.76L327.4,202.57L328.4,198.37L329.4,194.16L330.4,189.95L331.4,185.75L332.4,181.56L333.4,177.39L334.4,173.25L335.4,169.14L336.4,165.07L337.4,161.05L338.4,157.08L339.4,153.17L340.4,149.32L341.4,145.55L342.4,141.86L343.4,138.26L344.4,134.74L345.4,131.33L346.4,128.02L347.4,124.83L348.4,121.75L349.4,118.79L350.4,115.96L351.4,113.27L352.4,110.71L353.4,108.30L354.4,106.03L355.4,103.91L356.4,101.95L357.4,100.15L358.4,98.51L359.4,97.03L360.4,95.72L361.4,94.57L362.4,93.59L363.4,92.79L364.4,92.15L365.4,91.68L366.4,91.38L367.4,91.25L368.4,91.28L369.4,91.48L370.4,91.85L371.4,92.37L372.4,93.05L373.4,93.87" stroke="#0000ff" stroke-width="1.2"/>
<path d="M53.4,239.25L54.4,239.31L55.4,239.38L56.4,239.44L57.4,239.51L58.4,239.58L59.4,239.65L60.4,239.71L61.4,239.78L62.4,239.85L63.4,239.92L64.4,239.99L65.4,240.06L66.4,240.13L67.4,240.19L68.4,240.26L69.4,240.33L70.4,240.40L71.4,240.47L72.4,240.54L73.4,240.61L74.4,240.68L75.4,240.76L76.4,240.83L77.4,240.91L78.4,240.99L79.4,241.06L80.4,241.14L81.4,241.22L82.4,241.31L83.4,241.39L84.4,241.48L85.4,241.56L86.4,241.65L87.4,241.74L88.4,241.83L89.4,241.92L90.4,242.01L91.4,242.10L92.4,242.19L93.4,242.29L94.4,242.38L95.4,242.48L96.4,242.57L97.4,242.67L98.4,242.77L99.4,242.87L100.4,242.97L101.4,243.07L102.4,243.18L103.4,243.29L104.4,243.40L105.4,243.51L106.4,243.63L107.4,243.75L108.4,243.87L109.4,244.00L110.4,244.13L111.4,244.26L112.4,244.39L113.4,244.53L114.4,244.67L115.4,244.81L116.4,244.96L117.4,245.11L118.4,245.26L119.4,245.42L120.4,245.58L121.4,245.74L122.4,245.91L123.4,246.08L124.4,246.26L125.4,246.44L126.4,246.63L127.4,246.82L128.4,247.02L129.4,247.22L130.4,247.43L131.4,247.64L132.4,247.87L133.4,248.09L134.4,248.33L135.4,248.57L136.4,248.82L137.4,249.07L138.4,249.33L139.4,249.59L140.4,249.86L141.4,250.13L142.4,250.41L143.4,250.70L144.4,251.00L145.4,251.30L146.4,251.61L147.4,251.92L148.4,252.24L149.4,252.57L150.4,252.91L151.4,253.25L152.4,253.60L153.4,253.95L154.4,254.31L155.4,254.68L156.4,255.06L157.4,255.44L158.4,255.83L159.4,256.23L160.4,256.63L161.4,257.04L162.4,257.46L163.4,257.89L164.4,258.33L165.4,258.77L166.4,259.22L167.4,259.69L168.4,260.15L169.4,260.63L170.4,261.12L171.4,261.61L172.4,262.12L173.4,262.63L174.4,263.15L175.4,263.68L176.4,264.22L177.4,264.77L178.4,265.32L179.4,265.89L180.4,266.46L181.4,267.05L182.4,267.64L183.4,268.24L184.4,268.86L185.4,269.48L186.4,270.11L187.4,270.75L188.4,271.40L189.4,272.06L190.4,272.73L191.4,273.41L192.4,274.11L193.4,274.81L194.4,275.52L195.4,276.24L196.4,276.97L197.4,277.71L198.4,278.45L199.4,279.21L200.4,279.97L201.4,280.75L202.4,281.53L203.4,282.32L204.4,283.11L205.4,283.92L206.4,284.73L207.4,285.55L208.4,286.38L209.4,287.21L210.4,288.06L211.4,288.91L212.4,289.76L213.4,290.63L214.4,291.50L215.4,292.38L216.4,293.27L217.4,294.16L218.4,295.06L219.4,295.97L220.4,296.88L221.4,297.80L222.4,298.72L223.4,299.65L224.4,300.58L225.4,301.52L226.4,302.46L227.4,303.40L228.4,304.35L229.4,305.30L230.4,306.25L231.4,307.20L232.4,308.15L233.4,309.11L234.4,310.06L235.4,311.02L236.4,311.98L237.4,312.94L238.4,313.89L239.4,314.84L240.4,315.79L241.4,316.72L242.4,317.64L243.4,318.55L244.4,319.44L245.4,320.32L246.4,321.17L247.4,322.02L248.4,322.84L249.4,323.65L250.4,324.43L251.4,325.20L252.4,325.94L253.4,326.65L254.4,327.34L255.4,328.00L256.4,328.64L257.4,329.24L258.4,329.81L259.4,330.34L260.4,330.84L261.4,331.31L262.4,331.73L263.4,332.11L264.4,332.45L265.4,332.75L266.4,332.99L267.4,333.19L268.4,333.34L269.4,333.44L270.4,333.48L271.4,333.47L272.4,333.40L273.4,333.27L274.4,333.07L275.4,332.82L276.4,332.49L277.4,332.10L278.4,331.65L279.4,331.11L280.4,330.51L281.4,329.83L282.4,329.08L283.4,328.24L284.4,327.33L285.4,326.33L286.4,325.25L287.4,324.09L288.4,322.84L289.4,321.51L290.4,320.08L291.4,318.57L292.4,316.96L293.4,315.26L294.4,313.47L295.4,311.59L296.4,309.61L297.4,307.53L298.4,305.36L299.4,303.09L300.4,300.73L301.4,298.25L302.4,295.67L303.4,292.99L304.4,290.21L305.4,287.32L306.4,284.34L307.4,281.26L308.4,278.10L309.4,274.85L310.4,271.51L311.4,268.08L312.4,264.56L313.4,260.95L314.4,257.26L315.4,253.51L316.4,249.69L317.4,245.81L318.4,241.89L319.4,237.92L320.4,233.89L321.4,229.83L322.4,225.72L323.4,221.57L324.4,217.40L325.4,213.19L326.4,208.97L327.4,204.73L328.4,200.47L329.4,196.22L330.4,191.96L331.4,187.71L332.4,183.47L333.4,179.24L334.4,175.05L335.4,170.88L336.4,166.76L337.4,162.68L338.4,158.66L339.4,154.70L340.4,150.80L341.4,146.98L342.4,143.25L343.4,139.60L344.4,136.05L345.4,132.60L346.4,129.25L347.4,126.02L348.4,122.90L349.4,119.91L350.4,117.04L351.4,114.30L352.4,111.70L353.4,109.24L354.4,106.92L355.4,104.76L356.4,102.75L357.4,100.90L358.4,99.21L359.4,97.68L360.4,96.32L361.4,95.13L362.4,94.10L363.4,93.24L364.4,92.55L365.4,92.04L366.4,91.71L367.4,91.55L368.4,91.56L369.4,91.74L370.4,92.08L371.4,92.59L372.4,93.25L373.4,94.05L374.4,94.98L375.4,96.05L376.4,97.24L377.4,98.57L378.4,100.01L379.4,101.57L380.4,103.25L381.4,105.05L382.4,106.95L383.4,108.95L384.4,111.06L385.4,113.26L386.4,115.52L387.4,117.83L388.4,120.20L389.4,122.62L390.4,125.09L391.4,127.61L392.4,130.18L393.4,132.78L394.4,135.43L395.4,138.13L396.4,140.86L397.4,143.62L398.4,146.43L399.4,149.27L400.4,152.11L401.4,154.94L402.4,157.76L403.4,160.56L404.4,163.33L405.4,166.08L406.4,168.79L407.4,171.46L408.4,174.09L409.4,176.67L410.4,179.20L411.4,181.67L412.4,184.10L413.4,186.46L414.4,188.76L415.4,191.00L416.4,193.17L417.4,195.28L418.4,197.32L419.4,199.29L420.4,201.20L421.4,203.04L422.4,204.82L423.4,206.53L424.4,208.18L425.4,209.76L426.4,211.28L427.4,212.74L428.4,214.13L429.4,215.47L430.4,216.74L431.4,217.96L432.4,219.12L433.4,220.23L434.4,221.29L435.4,222.29L436.4,223.24L437.4,224.15L438.4,225.01L439.4,225.83L440.4,226.60L441.4,227.33L442.4,228.02L443.4,228.68L444.4,229.29L445.4,229.87L446.4,230.42L447.4,230.94L448.4,231.42L449.4,231.88L450.4,232.32L451.4,232.72L452.4,233.11L453.4,233.47L454.4,233.81L455.4,234.13L456.4,234.42L457.4,234.70L458.4,234.96L459.4,235.20L460.4,235.42L461.4,235.63L462.4,235.83L463.4,236.01L464.4,236.18" stroke="#ff0000" stroke-width="1.1" stroke-dasharray="6,3.5"/>
<path d="M53.4,239.39L54.4,239.46L55.4,239.52L56.4,239.59L57.4,239.66L58.4,239.73L59.4,239.80L60.4,239.87L61.4,239.94L62.4,240.01L63.4,240.07L64.4,240.14L65.4,240.21L66.4,240.28L67.4,240.35L68.4,240.42L69.4,240.49L70.4,240.56L71.4,240.63L72.4,240.70L73.4,240.78L74.4,240.85L75.4,240.93L76.4,241.00L77.4,241.08L78.4,241.16L79.4,241.24L80.4,241.32L81.4,241.40L82.4,241.49L83.4,241.57L84.4,241.66L85.4,241.75L86.4,241.83L87.4,241.92L88.4,242.02L89.4,242.11L90.4,242.20L91.4,242.30L92.4,242.39L93.4,242.48L94.4,242.58L95.4,242.68L96.4,242.77L97.4,242.87L98.4,242.97L99.4,243.07L100.4,243.18L101.4,243.28L102.4,243.39L103.4,243.50L104.4,243.61L105.4,243.73L106.4,243.85L107.4,243.97L108.4,244.09L109.4,244.22L110.4,244.35L111.4,244.49L112.4,244.63L113.4,244.77L114.4,244.91L115.4,245.05L116.4,245.20L117.4,245.36L118.4,245.51L119.4,245.67L120.4,245.83L121.4,246.00L122.4,246.18L123.4,246.35L124.4,246.53L125.4,246.72L126.4,246.91L127.4,247.11L128.4,247.32L129.4,247.52L130.4,247.74L131.4,247.96L132.4,248.19L133.4,248.43L134.4,248.67L135.4,248.92L136.4,249.17L137.4,249.43L138.4,249.70L139.4,249.97L140.4,250.25L141.4,250.53L142.4,250.82L143.4,251.12L144.4,251.43L145.4,251.75L146.4,252.07L147.4,252.40L148.4,252.74L149.4,253.08L150.4,253.44L151.4,253.80L152.4,254.16L153.4,254.54L154.4,254.92L155.4,255.31L156.4,255.71L157.4,256.11L158.4,256.52L159.4,256.94L160.4,257.36L161.4,257.79L162.4,258.23L163.4,258.68L164.4,259.14L165.4,259.61L166.4,260.08L167.4,260.57L168.4,261.06L169.4,261.57L170.4,262.08L171.4,262.60L172.4,263.13L173.4,263.66L174.4,264.21L175.4,264.77L176.4,265.33L177.4,265.91L178.4,266.49L179.4,267.08L180.4,267.69L181.4,268.30L182.4,268.92L183.4,269.55L184.4,270.18L185.4,270.83L186.4,271.49L187.4,272.16L188.4,272.84L189.4,273.53L190.4,274.23L191.4,274.94L192.4,275.66L193.4,276.39L194.4,277.14L195.4,277.88L196.4,278.64L197.4,279.41L198.4,280.19L199.4,280.97L200.4,281.76L201.4,282.56L202.4,283.36L203.4,284.17L204.4,284.99L205.4,285.82L206.4,286.65L207.4,287.49L208.4,288.33L209.4,289.18L210.4,290.04L211.4,290.91L212.4,291.78L213.4,292.66L214.4,293.55L215.4,294.44L216.4,295.34L217.4,296.25L218.4,297.16L219.4,298.08L220.4,299.00L221.4,299.94L222.4,300.87L223.4,301.82L224.4,302.76L225.4,303.72L226.4,304.67L227.4,305.63L228.4,306.60L229.4,307.57L230.4,308.54L231.4,309.51L232.4,310.49L233.4,311.47L234.4,312.46L235.4,313.45L236.4,314.45L237.4,315.45L238.4,316.45L239.4,317.45L240.4,318.43L241.4,319.41L242.4,320.38L243.4,321.33L244.4,322.25L245.4,323.16L246.4,324.05L247.4,324.92L248.4,325.78L249.4,326.61L250.4,327.42L251.4,328.21L252.4,328.98L253.4,329.72L254.4,330.43L255.4,331.12L256.4,331.77L257.4,332.40L258.4,332.98L259.4,333.54L260.4,334.06L261.4,334.54L262.4,334.98L263.4,335.38L264.4,335.73L265.4,336.04L266.4,336.31L267.4,336.52L268.4,336.68L269.4,336.79L270.4,336.85L271.4,336.85L272.4,336.79L273.4,336.67L274.4,336.48L275.4,336.24L276.4,335.92L277.4,335.54L278.4,335.09L279.4,334.57L280.4,333.98L281.4,333.31L282.4,332.56L283.4,331.73L284.4,330.83L285.4,329.84L286.4,328.77L287.4,327.61L288.4,326.37L289.4,325.05L290.4,323.63L291.4,322.13L292.4,320.53L293.4,318.84L294.4,317.05L295.4,315.17L296.4,313.20L297.4,311.13L298.4,308.96L299.4,306.69L300.4,304.32L301.4,301.84L302.4,299.24L303.4,296.52L304.4,293.69L305.4,290.76L306.4,287.72L307.4,284.59L308.4,281.36L309.4,278.05L310.4,274.66L311.4,271.15L312.4,267.55L313.4,263.85L314.4,260.06L315.4,256.21L316.4,252.30L317.4,248.35L318.4,244.36L319.4,240.32L320.4,236.24L321.4,232.12L322.4,227.96L323.4,223.76L324.4,219.53L325.4,215.28L326.4,211.01L327.4,206.72L328.4,202.42L329.4,198.11L330.4,193.81L331.4,189.51L332.4,185.22L333.4,180.95L334.4,176.71L335.4,172.49L336.4,168.32L337.4,164.19L338.4,160.12L339.4,156.11L340.4,152.17L341.4,148.31L342.4,144.53L343.4,140.84L344.4,137.25L345.4,133.77L346.4,130.39L347.4,127.12L348.4,123.97L349.4,120.94L350.4,118.03L351.4,115.25L352.4,112.61L353.4,110.10L354.4,107.74L355.4,105.54L356.4,103.48L357.4,101.59L358.4,99.85L359.4,98.28L360.4,96.88L361.4,95.64L362.4,94.57L363.4,93.66L364.4,92.93L365.4,92.38L366.4,92.01L367.4,91.83L368.4,91.82L369.4,91.98L370.4,92.30L371.4,92.79L372.4,93.43L373.4,94.22L374.4,95.14L375.4,96.19L376.4,97.37L377.4,98.68L378.4,100.11L379.4,101.66L380.4,103.33L381.4,105.12L382.4,107.01L383.4,109.01L384.4,111.11L385.4,113.30L386.4,115.56L387.4,117.87L388.4,120.23L389.4,122.65L390.4,125.12L391.4,127.63L392.4,130.19L393.4,132.80L394.4,135.44L395.4,138.13L396.4,140.86L397.4,143.63L398.4,146.43L399.4,149.27L400.4,152.11L401.4,154.94L402.4,157.76L403.4,160.56L404.4,163.33L405.4,166.08L406.4,168.79L407.4,171.46L408.4,174.09L409.4,176.67L410.4,179.20L411.4,181.67L412.4,184.10L413.4,186.46L414.4,188.76L415.4,191.00L416.4,193.17L417.4,195.28L418.4,197.32L419.4,199.29L420.4,201.20L421.4,203.04L422.4,204.82L423.4,206.53L424.4,208.18L425.4,209.76L426.4,211.28L427.4,212.74L428.4,214.13L429.4,215.47L430.4,216.74L431.4,217.96L432.4,219.12L433.4,220.23L434.4,221.29L435.4,222.29L436.4,223.24L437.4,224.15L438.4,225.01L439.4,225.83L440.4,226.60L441.4,227.33L442.4,228.02L443.4,228.68L444.4,229.29L445.4,229.87L446.4,230.42L447.4,230.94L448.4,231.42L449.4,231.88L450.4,232.32L451.4,232.72L452.4,233.11L453.4,233.47L454.4,233.81L455.4,234.13L456.4,234.42L457.4,234.70L458.4,234.96L459.4,235.20L460.4,235.42L461.4,235.63L462.4,235.83L463.4,236.01L464.4,236.18" stroke="#ff0000" stroke-width="1.2"/>
</g>
<g stroke="#ff00ff" stroke-width="1.1" fill="#ff00ff" clip-path="url(#c)"><path d="M145.7,247.7L145.7,261.4M143.2,247.7L148.2,247.7M143.2,261.4L148.2,261.4" fill="none"/><circle cx="145.7" cy="254.7" r="2.2" stroke="none"/></g>
<g stroke="#00ffff" stroke-width="1.1" fill="#00ffff" clip-path="url(#c)"><path d="M203.6,262.3L203.6,395M201.0,262.3L206.2,262.3M201.0,395L206.2,395" fill="none"/><circle cx="203.6" cy="336.6" r="2.3" stroke="none"/></g>
<g stroke="#00ffff" stroke-width="1.1" fill="#00ffff" clip-path="url(#c)"><path d="M242.1,303.4L242.1,395M239.5,303.4L244.7,303.4M239.5,395L244.7,395" fill="none"/><circle cx="242.1" cy="377.9" r="2.3" stroke="none"/></g>
<g stroke="#0000ff" stroke-width="1.1" fill="#0000ff" clip-path="url(#c)"><path d="M279.8,295.2L279.8,332.3M277.5,295.2L282.1,295.2M277.5,332.3L282.1,332.3" fill="none"/><circle cx="279.8" cy="313.7" r="2.3" stroke="none"/></g>
<g stroke="#0000ff" stroke-width="1.1" fill="#0000ff" clip-path="url(#c)"><path d="M315.7,211.3L315.7,299.3M313.09999999999997,211.3L318.3,211.3M313.09999999999997,299.3L318.3,299.3" fill="none"/><circle cx="315.7" cy="254.9" r="2.3" stroke="none"/></g>
<g stroke="#0000ff" stroke-width="1.1" fill="#0000ff" clip-path="url(#c)"><path d="M337.6,134.6L337.6,170.2M335.0,134.6L340.20000000000005,134.6M335.0,170.2L340.20000000000005,170.2" fill="none"/><circle cx="337.6" cy="152.7" r="2.3" stroke="none"/></g>
<g stroke="#000" stroke-width="1" fill="none">
<path d="M89.82,389.4v-4.3M89.82,23.9v4.3M115.53,389.4v-4.3M115.53,23.9v4.3M135.48,389.4v-4.3M135.48,23.9v4.3M151.78,389.4v-4.3M151.78,23.9v4.3M165.56,389.4v-4.3M165.56,23.9v4.3M177.50,389.4v-4.3M177.50,23.9v4.3M188.03,389.4v-4.3M188.03,23.9v4.3M197.45,389.4v-8.4M197.45,23.9v8.4M259.42,389.4v-4.3M259.42,23.9v4.3M295.67,389.4v-4.3M295.67,23.9v4.3M321.38,389.4v-4.3M321.38,23.9v4.3M341.33,389.4v-4.3M341.33,23.9v4.3M357.63,389.4v-4.3M357.63,23.9v4.3M371.41,389.4v-4.3M371.41,23.9v4.3M383.35,389.4v-4.3M383.35,23.9v4.3M393.88,389.4v-4.3M393.88,23.9v4.3M403.30,389.4v-8.4M403.30,23.9v8.4M53.4,358.95h9.0M465.05,358.95h-9.0M53.4,328.50h4.8M465.05,328.50h-4.8M53.4,298.05h9.0M465.05,298.05h-9.0M53.4,267.60h4.8M465.05,267.60h-4.8M53.4,237.15h9.0M465.05,237.15h-9.0M53.4,206.70h4.8M465.05,206.70h-4.8M53.4,176.25h9.0M465.05,176.25h-9.0M53.4,145.80h4.8M465.05,145.80h-4.8M53.4,115.35h9.0M465.05,115.35h-9.0M53.4,84.90h4.8M465.05,84.90h-4.8M53.4,54.45h9.0M465.05,54.45h-9.0"/>
<rect x="53.4" y="23.9" width="411.65000000000003" height="365.5"/>
</g>
<text class="tl" transform="translate(45.6,58.8) scale(1.235,1)" text-anchor="end">0.0006</text>
<text class="tl" transform="translate(45.6,119.6) scale(1.235,1)" text-anchor="end">0.0004</text>
<text class="tl" transform="translate(45.6,180.6) scale(1.235,1)" text-anchor="end">0.0002</text>
<text class="tl" transform="translate(45.6,241.5) scale(1.235,1)" text-anchor="end">0</text>
<text class="tl" transform="translate(45.6,302.4) scale(1.235,1)" text-anchor="end">−0.0002</text>
<text class="tl" transform="translate(45.6,363.3) scale(1.235,1)" text-anchor="end">−0.0004</text>
<text x="193.9" y="404.9" style="font-family:'Liberation Serif',serif;font-weight:bold;font-size:14px">1</text>
<text x="395.6" y="404.9" style="font-family:'Liberation Serif',serif;font-weight:bold;font-size:14px">1</text>
<text class="tl" transform="translate(407.75,404.8) scale(1.3,1)" text-anchor="middle">0</text>
<text x="259.4" y="417" text-anchor="middle" style="font-family:'Liberation Serif',serif;font-weight:bold;font-size:15px">x</text>
<text transform="translate(12.2,207) rotate(-90) scale(1.17,1)" text-anchor="middle" class="tl" style="font-size:12px">Δi(x)</text>
<text transform="translate(95.8,76.1) scale(0.94,1)" style="font-family:'Liberation Serif',serif;font-size:18.9px;letter-spacing:0.9px" fill="#0000ff" stroke="#0000ff" stroke-width="0.2">COMA</text>
</svg></body></html>
